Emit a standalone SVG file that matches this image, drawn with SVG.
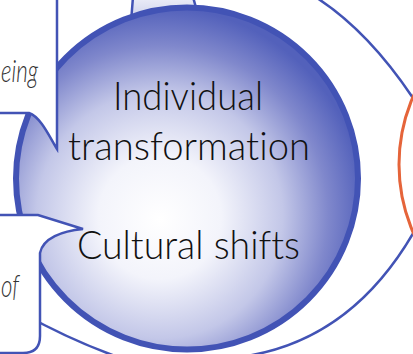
<svg xmlns="http://www.w3.org/2000/svg" width="413" height="354" viewBox="0 0 413 354">
  <style>
    .blue { fill: none; stroke: #4253b5; stroke-width: 2.5; }
    .callout { fill: #ffffff; stroke: #4253b5; stroke-width: 2.5; stroke-linejoin: miter; }
    .main { font-family: Lato, "Liberation Sans", sans-serif; font-weight: 300; font-size: 40px; fill: #111111; text-anchor: middle; font-variant-ligatures: none; }
    .note { font-family: Lato, "Liberation Sans", sans-serif; font-weight: 300; font-style: italic; font-size: 31px; fill: #333333; text-anchor: start; font-variant-ligatures: none; }
  </style>
  <defs>
    <radialGradient id="ballFill" cx="0.42" cy="0.6" r="0.6" fx="0.42" fy="0.62">
      <stop offset="0" stop-color="#ffffff"/>
      <stop offset="0.3" stop-color="#f3f4fb"/>
      <stop offset="0.6" stop-color="#c3c7e8"/>
      <stop offset="0.82" stop-color="#8088cc"/>
      <stop offset="1" stop-color="#5361bb"/>
    </radialGradient>
    <linearGradient id="tabFill" x1="0" y1="0" x2="0" y2="1">
      <stop offset="0" stop-color="#eceef8"/>
      <stop offset="1" stop-color="#c9cdea"/>
    </linearGradient>
  </defs>

  <g id="outer-ring">
    <path class="blue" d="M317,-2 Q368,31 413,98"/>
    <path class="blue" d="M415,230 Q351,342 240,357"/>
    <path class="blue" d="M20,312 Q70,340 118,357"/>
  </g>

  <g id="orange-node">
    <circle cx="569" cy="164.5" r="170" fill="#ffffff" stroke="#e5643a" stroke-width="3"/>
  </g>

  <g id="top-callout">
    <path d="M133,-3 L131,22 L200,22 L193,-3 Z" fill="url(#tabFill)" stroke="#4253b5" stroke-width="2.5"/>
  </g>

  <g id="main-node">
    <circle cx="187" cy="178.5" r="171" fill="url(#ballFill)" stroke="#4253b5" stroke-width="6"/>
    <text class="main" x="188" y="110" textLength="150" lengthAdjust="spacingAndGlyphs">Individual</text>
    <text class="main" x="189" y="160" textLength="242" lengthAdjust="spacingAndGlyphs">transformation</text>
    <text class="main" x="188.5" y="259" textLength="223" lengthAdjust="spacingAndGlyphs">Cultural shifts</text>
  </g>

  <g id="callout-top-left">
    <path class="callout" d="M-5,-5 H57 V149 C50,138 41,117 29,113 H-5 Z"/>
    <text class="note" x="1" y="82" textLength="37" lengthAdjust="spacingAndGlyphs">eing</text>
  </g>

  <g id="callout-bottom-left">
    <path class="callout" d="M-5,215 H38 L83,229 C62,231 43,238 40,253 V336 Q40,353 23,353 H-5 Z"/>
    <text class="note" x="1" y="297" textLength="18" lengthAdjust="spacingAndGlyphs">of</text>
  </g>
</svg>
